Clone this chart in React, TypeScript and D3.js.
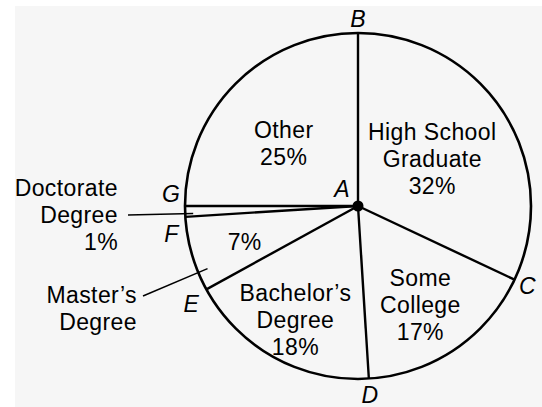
import React, { useEffect, useRef } from 'react';
import * as d3 from 'd3';

// education levels, clockwise from the top (point B)
const categories = ['High School Graduate', 'Some College', "Bachelor's Degree", "Master's Degree", 'Doctorate Degree', 'Other'];
const shares = [32, 17, 18, 7, 1, 25];
// letter at the start of each slice's boundary
const pointNames = ['B', 'C', 'D', 'E', 'F', 'G'];
const centerName = 'A';

// label lines for each slice (inside labels) and outside labels
const insideLines: Record<string, string[]> = {
  'High School Graduate': ['High School', 'Graduate', '32%'],
  'Some College': ['Some', 'College', '17%'],
  "Bachelor's Degree": ['Bachelor\u2019s', 'Degree', '18%'],
  "Master's Degree": ['7%'],
  Other: ['Other', '25%'],
};
const outsideLines: Record<string, string[]> = {
  'Doctorate Degree': ['Doctorate', 'Degree', '1%'],
  "Master's Degree": ['Master\u2019s', 'Degree'],
};

const W = 542;
const H = 407;

const App = () => {
  const svgRef = useRef<SVGSVGElement | null>(null);

  useEffect(() => {
    if (!svgRef.current) return;
    const svg = d3.select(svgRef.current);
    svg.selectAll('*').remove();

    const cx = 358, cy = 206, r = 173;
    const font = '"Liberation Sans", Arial, Helvetica, sans-serif';
    const fs = 23;
    const lh = 27;

    svg.append('rect')
      .attr('x', 15).attr('y', 6)
      .attr('width', W - 15).attr('height', H - 6)
      .attr('fill', '#f6f6f6');

    const g = svg.append('g').attr('transform', `translate(${cx},${cy})`);

    const data = categories.map((c, i) => ({ name: c, value: shares[i] }));
    const arcs = d3.pie<any>().sort(null).value(d => d.value)(data);

    // point at angle (radians, clockwise from top) and radius
    const pt = (a: number, rad: number) => [rad * Math.sin(a), -rad * Math.cos(a)];

    // outer circle
    g.append('circle')
      .attr('r', r)
      .attr('fill', 'none')
      .attr('stroke', '#000')
      .attr('stroke-width', 2.6);

    // spokes
    g.selectAll('line.spoke')
      .data(arcs).enter()
      .append('line')
      .attr('class', 'spoke')
      .attr('x1', 0).attr('y1', 0)
      .attr('x2', d => pt(d.startAngle, r)[0])
      .attr('y2', d => pt(d.startAngle, r)[1])
      .attr('stroke', '#000')
      .attr('stroke-width', 2.4);

    g.append('circle').attr('r', 5.5).attr('fill', '#000');

    const multiText = (x: number, y: number, lines: string[], anchor: string) => {
      const t = g.append('text')
        .attr('x', x)
        .attr('text-anchor', anchor)
        .style('font-family', font)
        .style('font-size', `${fs}px`)
        .style('letter-spacing', '0.4px')
        .attr('fill', '#000');
      const top = y - ((lines.length - 1) * lh) / 2 + fs * 0.36;
      lines.forEach((l, i) => {
        t.append('tspan').attr('x', x).attr('y', top + i * lh).text(l);
      });
    };

    // inside labels: radius along mid angle
    const labelRadius: Record<string, number> = {
      'High School Graduate': 88,
      'Some College': 117,
      "Bachelor's Degree": 130,
      "Master's Degree": 119,
      Other: 97,
    };
    const labelAngleShift: Record<string, number> = {
      'Some College': 2,
      "Master's Degree": -1.5,
      Other: -5,
    };
    arcs.forEach(a => {
      const lines = insideLines[a.data.name];
      if (!lines) return;
      const mid = (a.startAngle + a.endAngle) / 2 + ((labelAngleShift[a.data.name] || 0) * Math.PI) / 180;
      const [x, y] = pt(mid, labelRadius[a.data.name]);
      multiText(x, y, lines, 'middle');
    });

    // outside labels with leader lines
    const leader: Record<string, { angle: number; inner: number; end: [number, number]; textX: number; textY: number }> = {
      'Doctorate Degree': { angle: -0.8, inner: r - 8, end: [128 - cx, 215 - cy], textX: 118 - cx, textY: 215 - cy },
      "Master's Degree": { angle: -6.4, inner: r - 10, end: [143 - cx, 296 - cy], textX: 137 - cx, textY: 308 - cy },
    };
    arcs.forEach(a => {
      const lines = outsideLines[a.data.name];
      if (!lines) return;
      const L = leader[a.data.name];
      const mid = (a.startAngle + a.endAngle) / 2 + (L.angle * Math.PI) / 180;
      const [x1, y1] = pt(mid, L.inner);
      g.append('line')
        .attr('x1', x1).attr('y1', y1)
        .attr('x2', L.end[0]).attr('y2', L.end[1])
        .attr('stroke', '#000')
        .attr('stroke-width', 1.5);
      multiText(L.textX, L.textY, lines, 'end');
    });

    // boundary letters
    const letterOffset: Record<string, [number, number]> = {
      B: [0, 0],
      C: [0, 0],
      D: [0, 2],
      E: [-3, 8],
      F: [0, 16],
      G: [0, -12],
    };
    const letterText = (x: number, y: number, s: string) =>
      g.append('text')
        .attr('x', x).attr('y', y)
        .attr('text-anchor', 'middle')
        .style('font-family', font)
        .style('font-size', `${fs}px`)
        .style('font-style', 'italic')
        .attr('fill', '#000')
        .text(s);

    arcs.forEach((a, i) => {
      const [x, y] = pt(a.startAngle, r + 14);
      const off = letterOffset[pointNames[i]];
      letterText(x + off[0], y + 8 + off[1], pointNames[i]);
    });
    letterText(-16, -9, centerName);
  }, []);

  return (
    <svg
      ref={svgRef}
      width={W}
      height={H}
      style={{ position: 'absolute', left: 0, top: 0, background: '#fff' }}
    />
  );
};

export default App;
